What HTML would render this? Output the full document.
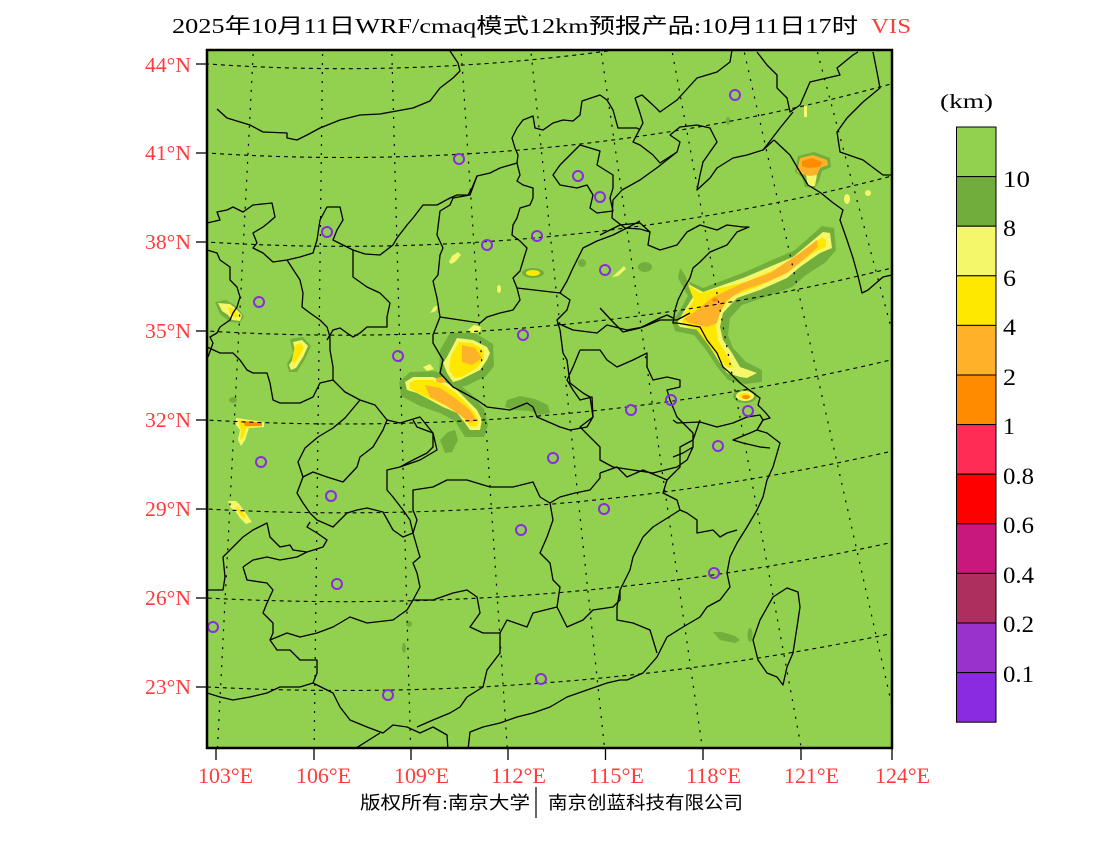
<!DOCTYPE html>
<html><head><meta charset="utf-8"><style>
html,body{margin:0;padding:0;background:#fff;}
svg{display:block;}
text{font-family:"Liberation Serif","Noto Sans CJK SC",serif;}
.cj{font-family:"Liberation Serif","Noto Sans CJK SC",sans-serif;}
</style></head><body>
<svg width="1100" height="850" viewBox="0 0 1100 850" xmlns="http://www.w3.org/2000/svg">
<defs><clipPath id="mc"><rect x="207" y="50" width="685" height="698"/></clipPath></defs>
<rect width="1100" height="850" fill="#fff"/>
<g clip-path="url(#mc)">
<rect x="207" y="50" width="685" height="698" fill="#92D050"/>
<g fill="#72AE3C">
<polygon points="680,268 690,282 703,288 745,272 795,250 822,226 834,228 836,250 826,262 806,275 792,287 765,297 742,305 730,318 728,335 733,348 746,362 762,370 762,382 745,384 728,380 718,368 706,350 694,335 675,331 672,322 680,310 688,296 678,278"/>
<polygon points="440,350 450,333 475,333 493,344 494,366 486,376 466,386 450,388 439,376"/>
<polygon points="399,382 410,372 435,371 456,382 471,394 484,409 488,425 484,437 465,437 455,421 440,413 420,406 401,396"/>
<polygon points="507,400 520,396 535,399 548,405 550,413 540,415 530,411 515,410 505,407"/>
<polygon points="440,440 448,432 455,430 458,440 452,452 445,453"/>
<ellipse cx="645" cy="267" rx="7" ry="5"/>
<ellipse cx="582" cy="263" rx="4" ry="4"/>
<polygon points="713,632 722,632 735,636 740,640 735,643 720,640"/>
<ellipse cx="750" cy="635" rx="2.5" ry="7"/>
<ellipse cx="728" cy="121" rx="2" ry="4"/>
<ellipse cx="409" cy="624" rx="3" ry="3"/>
<ellipse cx="404" cy="648" rx="2" ry="5"/>
<ellipse cx="233" cy="400" rx="4" ry="3"/>
<polygon points="795,172 798,156 814,152 830,158 831,167 822,171 819,181 815,188 805,187 802,177"/>
<polygon points="215,302 226,300 236,306 244,316 240,323 230,322 220,314"/>
<polygon points="290,339 303,337 311,346 305,359 297,372 289,372 287,364 293,353"/>
<ellipse cx="533" cy="273" rx="11" ry="5"/>
<ellipse cx="745" cy="396" rx="12" ry="7"/>
</g>
<g fill="#F5F76A">
<polygon points="685,273 690,285 703,292 743,278 793,257 823,232 830,233 832,248 820,253 800,267 787,278 760,290 737,298 723,313 720,327 723,340 732,353 740,367 757,373 747,378 740,377 727,373 720,363 710,347 700,330 680,327 677,323 683,313 693,297"/>
<polygon points="447,357 457,338 473,340 487,347 490,353 487,360 480,370 470,375 460,380 453,382 447,373 443,363"/>
<polygon points="405,382 413,377 433,377 447,383 457,390 467,400 477,410 482,420 480,430 470,430 465,423 457,413 443,407 430,400 417,393 407,390"/>
<polygon points="468,330 474,325 481,327 480,332 472,333"/>
<polygon points="423,367 430,364 434,369 427,371"/>
<polygon points="806,175 817,175 815,186 808,186"/>
<polygon points="236,418 250,420 264,422 264,427 249,428 245,440 241,446 238,440 240,430 236,425"/>
<polygon points="228,501 236,501 240,505 247,515 252,522 246,524 240,518 236,512 230,507"/>
<polygon points="218,303 230,304 235,308 242,315 240,321 232,320 228,315 222,311"/>
<polygon points="293,342 302,340 308,346 303,357 296,368 291,370 289,365 296,355"/>
<polygon points="449,262 452,256 458,252 461,255 455,262 451,264"/>
<polygon points="612,277 620,270 624,266 626,269 618,276"/>
<polygon points="430,313 434,307 438,305 436,311"/>
<ellipse cx="847" cy="199" rx="3" ry="5"/>
<ellipse cx="868" cy="193" rx="3" ry="3"/>
<rect x="804" y="106" width="3" height="11"/>
<ellipse cx="499" cy="289" rx="2" ry="4"/>
<ellipse cx="745" cy="396" rx="9" ry="5"/>
</g>
<g fill="#FFE800">
<polygon points="688,285 700,293 745,282 795,261 822,237 826,240 826,247 815,252 797,265 783,275 757,287 733,296 720,310 716,325 718,340 727,355 733,367 728,368 718,358 707,343 697,330 682,324 684,314 694,300"/>
<polygon points="451,356 459,342 472,343 484,350 484,359 477,368 462,377 455,378 449,370"/>
<polygon points="409,383 416,380 433,380 446,386 456,393 466,403 475,413 479,422 476,427 470,426 463,418 455,410 442,404 429,398 416,392 410,389"/>
<polygon points="238,420 250,421 260,423 260,426 247,427 243,438 240,440 241,430"/>
<polygon points="236,505 246,516 244,519 238,512"/>
<polygon points="228,307 234,309 239,316 236,318 230,314"/>
<polygon points="295,345 301,343 304,348 299,357 294,364 292,360"/>
<ellipse cx="533" cy="273" rx="7" ry="3"/>
<ellipse cx="745" cy="396" rx="6" ry="3"/>
</g>
<g fill="#FDB22A">
<polygon points="693,313 713,297 743,283 770,273 800,253 817,240 818,247 803,260 787,273 767,282 743,290 727,300 720,313 717,323 707,327 690,323 684,319"/>
<polygon points="462,345 475,348 482,358 472,365 462,362"/>
<polygon points="425,385 440,388 455,398 470,410 476,420 470,423 460,415 445,405 430,397"/>
<ellipse cx="441" cy="380" rx="5" ry="3"/>
<polygon points="797,172 800,158 813,155 827,160 828,165 820,168 817,175 810,176 805,175"/>
</g>
<g fill="#FF8C00">
<polygon points="802,161 812,158 822,162 820,167 808,168 802,166"/>
<polygon points="243,421 262,423 262,426 245,426"/>
<ellipse cx="746" cy="397" rx="4" ry="2"/>
<ellipse cx="715" cy="300" rx="3" ry="2"/>
</g>
<g fill="none" stroke="#000" stroke-width="1.3" stroke-linejoin="round">
<polyline points="217,109 227,118 250,125 263,132 287,133 287,138 297,140 307,135 320,128 340,120 360,115 380,114 413,108 430,101 440,88 453,78 460,71 458,63 450,51"/>
<polyline points="207,223 220,220 217,212 227,210 233,207 243,212 253,205 272,203 275,217 268,223 263,227 253,233 257,243 253,248 263,253 273,262 287,260 300,257 313,253 317,240 320,220 327,207 340,207 343,220 337,230 333,240 353,250 365,254 380,255 393,245 397,238 407,225 413,218 423,205 437,205 450,198 457,195 468,195 472,188 477,176 490,173 500,168 517,163 518,155 515,148 512,138 517,128 523,120 533,116 535,128 543,130 553,123 563,120 573,121 580,115 582,101 600,95 607,100 613,110 618,128 637,128 640,130"/>
<polyline points="353,250 353,277 367,287 380,293 390,303 387,317 387,327 367,327 360,333 353,337 347,333 340,328 333,330 327,340"/>
<polyline points="287,260 300,280 303,293 302,307 310,313 320,320 327,327 330,337"/>
<polyline points="207,250 217,253 220,260 230,267 230,280 237,287 240,297 237,307 233,313 230,320 220,327 217,333 210,337 213,343 208,357"/>
<polyline points="207,347 220,353 233,353 240,360 247,370 253,373 267,373 270,383 273,400 280,403 300,403 313,397 320,383 333,380 333,367 330,350 330,337"/>
<polyline points="477,176 470,195 453,198 450,205 440,211 437,235 443,248 440,255 438,275 433,281 437,298 440,317 433,335 433,343 443,360 440,373 453,387 477,400 487,407 510,410 527,403 533,407 537,417 560,427 570,430 587,427 593,417 590,397 583,393 570,383 567,360 563,353 560,330 557,320 567,310 570,300 560,293"/>
<polyline points="517,163 520,175 517,181 523,185 533,188 533,198 530,205 520,208 517,218 513,225 512,235 520,241 527,248 523,261 520,271 513,278 517,288 560,293 567,281 573,268 583,248 597,241 613,235 627,228 640,221"/>
<polyline points="440,317 460,320 480,323 487,317 500,313 513,310 520,300 517,288"/>
<polyline points="600,235 620,225 640,223 650,232 648,245 660,250 677,245 687,232 700,225 717,230 727,225 743,227 749,227 737,232 727,245 710,252 700,262 693,268 690,278 683,290 678,300 675,310 673,323 677,323 700,327 707,340 717,353 723,367 730,373 740,383 752,392 760,398 758,405 765,412 770,418 763,420 757,430 767,433 780,443 773,467 767,480 763,497 757,510 747,527 737,543 730,557 727,573 730,587 720,600 707,607 700,617 683,627 667,637 657,657 643,673 627,680 620,680 607,683 587,690 567,697 550,707 533,713 517,717 500,723 483,727 470,732 468,750"/>
<polyline points="448,750 447,735 433,727 420,733 407,727 393,725 383,733 367,727 350,720 340,707 333,693 313,683"/>
<polyline points="650,232 640,229 625,228 612,218 613,200 622,190 640,180 658,167 677,152"/>
<polyline points="560,165 570,155 580,145 600,151 597,165 613,175 613,188 610,198 613,211 597,213 590,208 593,195 587,185 577,188 560,185 553,175 560,165"/>
<polyline points="635,98 642,95 655,107 660,112 677,100 697,78 717,72 730,62 732,50"/>
<polyline points="635,98 640,113 643,123 633,142 640,145 653,155 660,163 677,152 680,142 670,135 680,127 697,125 710,128 717,142 710,152 703,162 700,175 697,190 710,178 717,168 733,158 747,155 763,150 774,140"/>
<polyline points="774,140 790,155 800,172 808,185 821,193 832,202 843,210 840,220 847,240 853,258 858,276 862,293 868,290 883,277 892,275"/>
<polyline points="757,52 767,65 777,75 777,88 787,98 790,112 800,105 810,82 827,78 840,75 837,68 853,55 858,52"/>
<polyline points="873,52 877,72 880,88 863,102 847,118 837,132 840,152 863,160 883,175 892,175"/>
<polyline points="793,112 780,128 767,145 763,150"/>
<polyline points="600,308 613,322 623,332 640,328 660,318 667,315 673,318"/>
<polyline points="557,323 573,330 597,333 607,325 627,330 643,327 660,320 677,320 690,313"/>
<polyline points="580,350 600,350 607,360 617,367 633,360 647,353 647,367 653,380 667,377 680,380 680,387 667,390 670,400 677,417 693,433 693,447 683,453 673,457"/>
<polyline points="580,350 573,367 567,380 573,390 580,400 592,397 593,417 580,427 593,440 600,447 600,460 613,467 633,470 653,473 677,467 687,460 693,447"/>
<polyline points="673,420 677,423 700,422 717,427 733,423 747,417 760,415 763,420 757,430 750,433 733,440 743,443 760,447 770,448"/>
<polyline points="600,473 617,467 627,477 643,470 660,477 667,480 680,467 680,447 693,440 700,420"/>
<polyline points="667,480 663,493 677,500 680,510 687,513 697,520 697,533 713,530 720,537 727,533 737,530"/>
<polyline points="680,510 653,527 643,537 633,557 630,570 620,590 617,607 617,620 633,623 650,630 657,653"/>
<polyline points="400,423 420,417 433,433 437,450 420,460 400,467"/>
<polyline points="303,477 313,472 327,477 343,482 357,467 360,457 373,447 383,430 387,420 400,423"/>
<polyline points="333,380 345,392 360,400 375,405 387,420"/>
<polyline points="303,477 298,462 305,448 318,437 333,428 345,418 360,400"/>
<polyline points="207,590 223,590 225,577 223,557 233,547 243,537 253,530 267,523 270,537 280,547 290,545 293,550 307,552 323,547 327,540 317,533 307,527 310,522"/>
<polyline points="303,477 297,493 303,503 310,513 317,520 333,527 340,520 347,513 357,510 367,508 383,512 393,530 403,537 413,533 410,520 403,510 393,497 387,490 387,470 400,467 413,460 427,453 433,447 433,433 417,427 413,420"/>
<polyline points="243,567 253,560 267,557 280,560 297,557 307,552"/>
<polyline points="243,567 247,580 267,583 273,590 267,603 263,613 273,623 273,633 270,640 277,650 290,650 300,660 317,660 317,673 313,683 300,687 280,687 267,693 250,697 233,700 220,697 207,693"/>
<polyline points="413,600 407,610 393,620 367,623 350,617 333,627 317,633 300,637 287,633 270,640"/>
<polyline points="413,600 433,600 453,593 467,590 477,597 480,613 470,627 483,633 500,633 500,653 487,670 483,687 467,697 460,707 450,713 433,720 417,727"/>
<polyline points="413,600 420,587 417,573 413,563 420,557 417,547 413,533 417,520 413,510 413,490 433,487 447,480 467,480 490,487 513,487 533,482 540,497 550,503"/>
<polyline points="550,503 553,520 547,537 540,553 550,563 553,580 560,587 557,607 533,613 527,627 507,620 500,633"/>
<polyline points="557,607 567,627 583,620 593,610 613,607 620,600 620,590"/>
<polyline points="550,503 560,497 575,493 590,490 600,478 600,473"/>
<polyline points="353,750 380,733"/>
<polygon points="787,588 798,592 800,607 797,627 793,653 787,667 783,685 777,677 767,673 758,660 753,640 760,620 773,597"/>
</g>
<g fill="none" stroke="#000" stroke-width="1.1" stroke-dasharray="4,4">
<ellipse cx="344" cy="-1719" rx="1879.8" ry="1787.67"/>
<ellipse cx="344" cy="-1719" rx="1973.2" ry="1876.5"/>
<ellipse cx="344" cy="-1719" rx="2066.6" ry="1965.33"/>
<ellipse cx="344" cy="-1719" rx="2160.0" ry="2054.16"/>
<ellipse cx="344" cy="-1719" rx="2253.4" ry="2142.99"/>
<ellipse cx="344" cy="-1719" rx="2346.8" ry="2231.82"/>
<ellipse cx="344" cy="-1719" rx="2440.2" ry="2320.65"/>
<ellipse cx="344" cy="-1719" rx="2533.6" ry="2409.48"/>
</g>
<g fill="none" stroke="#000" stroke-width="1.2" stroke-dasharray="2,7">
<line x1="255.9" y1="0" x2="214.8" y2="800"/>
<line x1="323.2" y1="0" x2="313.5" y2="800"/>
<line x1="390.4" y1="0" x2="412.0" y2="800"/>
<line x1="457.8" y1="0" x2="510.7" y2="800"/>
<line x1="525.5" y1="0" x2="610.0" y2="800"/>
<line x1="593.7" y1="0" x2="709.9" y2="800"/>
<line x1="662.6" y1="0" x2="810.9" y2="800"/>
<line x1="732.5" y1="0" x2="913.3" y2="800"/>
<line x1="803.5" y1="0" x2="1017.3" y2="800"/>
<line x1="875.8" y1="0" x2="1123.2" y2="800"/>
</g>
<g fill="none" stroke="#8A2BE2" stroke-width="2">
<circle cx="735" cy="95" r="5"/><circle cx="459" cy="159" r="5"/><circle cx="578" cy="176" r="5"/><circle cx="600" cy="197" r="5"/><circle cx="327" cy="232" r="5"/><circle cx="487" cy="245" r="5"/><circle cx="537" cy="236" r="5"/><circle cx="605" cy="270" r="5"/><circle cx="259" cy="302" r="5"/><circle cx="523" cy="335" r="5"/><circle cx="398" cy="356" r="5"/><circle cx="671" cy="400" r="5"/><circle cx="631" cy="410" r="5"/><circle cx="748" cy="411" r="5"/><circle cx="718" cy="446" r="5"/><circle cx="553" cy="458" r="5"/><circle cx="261" cy="462" r="5"/><circle cx="331" cy="496" r="5"/><circle cx="604" cy="509" r="5"/><circle cx="521" cy="530" r="5"/><circle cx="714" cy="573" r="5"/><circle cx="337" cy="584" r="5"/><circle cx="213" cy="627" r="5"/><circle cx="541" cy="679" r="5"/><circle cx="388" cy="695" r="5"/>
</g>
</g>
<rect x="207" y="50" width="685" height="698" fill="none" stroke="#000" stroke-width="2.5"/>
<g stroke="#000" stroke-width="1.3">
<line x1="196" y1="64" x2="207" y2="64"/><line x1="196" y1="153" x2="207" y2="153"/><line x1="196" y1="242" x2="207" y2="242"/><line x1="196" y1="331" x2="207" y2="331"/><line x1="196" y1="420" x2="207" y2="420"/><line x1="196" y1="509" x2="207" y2="509"/><line x1="196" y1="598" x2="207" y2="598"/><line x1="196" y1="687" x2="207" y2="687"/>
<line x1="216" y1="748" x2="216" y2="760"/><line x1="314" y1="748" x2="314" y2="760"/><line x1="411" y1="748" x2="411" y2="760"/><line x1="508" y1="748" x2="508" y2="760"/><line x1="605.5" y1="748" x2="605.5" y2="760"/><line x1="703" y1="748" x2="703" y2="760"/><line x1="801" y1="748" x2="801" y2="760"/><line x1="892" y1="748" x2="892" y2="760"/>
</g>
<g fill="#FF3B3B" font-size="21">
<text x="145" y="72" textLength="46" lengthAdjust="spacingAndGlyphs">44°N</text>
<text x="145" y="160" textLength="46" lengthAdjust="spacingAndGlyphs">41°N</text>
<text x="145" y="249" textLength="46" lengthAdjust="spacingAndGlyphs">38°N</text>
<text x="145" y="338" textLength="46" lengthAdjust="spacingAndGlyphs">35°N</text>
<text x="145" y="427" textLength="46" lengthAdjust="spacingAndGlyphs">32°N</text>
<text x="145" y="516" textLength="46" lengthAdjust="spacingAndGlyphs">29°N</text>
<text x="145" y="605" textLength="46" lengthAdjust="spacingAndGlyphs">26°N</text>
<text x="145" y="694" textLength="46" lengthAdjust="spacingAndGlyphs">23°N</text>
</g>
<g fill="#FF3B3B" font-size="22">
<text x="198" y="783" textLength="55" lengthAdjust="spacingAndGlyphs">103°E</text>
<text x="296" y="783" textLength="55" lengthAdjust="spacingAndGlyphs">106°E</text>
<text x="394" y="783" textLength="55" lengthAdjust="spacingAndGlyphs">109°E</text>
<text x="491" y="783" textLength="55" lengthAdjust="spacingAndGlyphs">112°E</text>
<text x="589" y="783" textLength="55" lengthAdjust="spacingAndGlyphs">115°E</text>
<text x="686" y="783" textLength="55" lengthAdjust="spacingAndGlyphs">118°E</text>
<text x="784" y="783" textLength="55" lengthAdjust="spacingAndGlyphs">121°E</text>
<text x="875" y="783" textLength="55" lengthAdjust="spacingAndGlyphs">124°E</text>
</g>
<text class="cj" x="172" y="33" font-size="21" fill="#000" textLength="686" lengthAdjust="spacingAndGlyphs">2025年10月11日WRF/cmaq模式12km预报产品:10月11日17时</text>
<text x="871" y="33" font-size="21" fill="#FF3B3B" textLength="40" lengthAdjust="spacingAndGlyphs">VIS</text>
<text class="cj" x="360" y="809" font-size="18" fill="#000" textLength="170" lengthAdjust="spacingAndGlyphs">版权所有:南京大学</text>
<line x1="536" y1="787" x2="536" y2="818" stroke="#000" stroke-width="1.2"/>
<text class="cj" x="548" y="809" font-size="18" fill="#000" textLength="195" lengthAdjust="spacingAndGlyphs">南京创蓝科技有限公司</text>
<text x="940" y="108" font-size="20" fill="#000" textLength="53" lengthAdjust="spacingAndGlyphs">(km)</text>
<g stroke="#000" stroke-width="1">
<rect x="956.5" y="127" width="39.5" height="49.6" fill="#92D050"/>
<rect x="956.5" y="176.6" width="39.5" height="49.6" fill="#70AD3C"/>
<rect x="956.5" y="226.2" width="39.5" height="49.6" fill="#F5F76A"/>
<rect x="956.5" y="275.8" width="39.5" height="49.6" fill="#FFE800"/>
<rect x="956.5" y="325.4" width="39.5" height="49.6" fill="#FDB22A"/>
<rect x="956.5" y="375" width="39.5" height="49.6" fill="#FF8C00"/>
<rect x="956.5" y="424.6" width="39.5" height="49.6" fill="#FF2D55"/>
<rect x="956.5" y="474.2" width="39.5" height="49.6" fill="#FF0000"/>
<rect x="956.5" y="523.8" width="39.5" height="49.6" fill="#C8187E"/>
<rect x="956.5" y="573.4" width="39.5" height="49.6" fill="#AD2F5E"/>
<rect x="956.5" y="623" width="39.5" height="49.6" fill="#9932CC"/>
<rect x="956.5" y="672.6" width="39.5" height="49.6" fill="#8A2BE2"/>
</g>
<g font-size="23" fill="#000">
<text x="1003" y="187" textLength="27" lengthAdjust="spacingAndGlyphs">10</text>
<text x="1003" y="236" textLength="13" lengthAdjust="spacingAndGlyphs">8</text>
<text x="1003" y="286" textLength="13" lengthAdjust="spacingAndGlyphs">6</text>
<text x="1003" y="335" textLength="13" lengthAdjust="spacingAndGlyphs">4</text>
<text x="1003" y="385" textLength="13" lengthAdjust="spacingAndGlyphs">2</text>
<text x="1003" y="434" textLength="12" lengthAdjust="spacingAndGlyphs">1</text>
<text x="1003" y="484" textLength="31" lengthAdjust="spacingAndGlyphs">0.8</text>
<text x="1003" y="533" textLength="31" lengthAdjust="spacingAndGlyphs">0.6</text>
<text x="1003" y="583" textLength="31" lengthAdjust="spacingAndGlyphs">0.4</text>
<text x="1003" y="632" textLength="31" lengthAdjust="spacingAndGlyphs">0.2</text>
<text x="1003" y="682" textLength="31" lengthAdjust="spacingAndGlyphs">0.1</text>
</g>
</svg>
</body></html>
